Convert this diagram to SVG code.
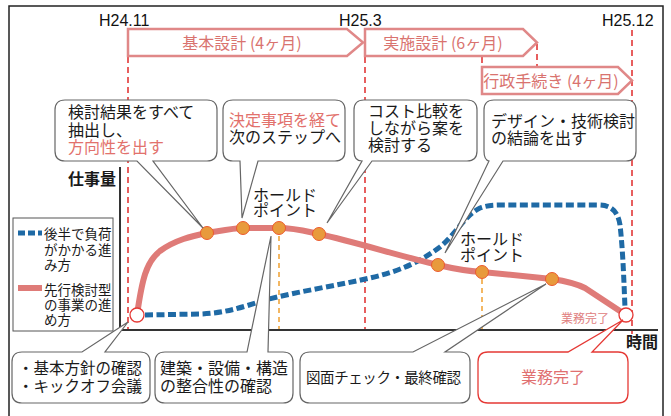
<svg xmlns="http://www.w3.org/2000/svg" width="671" height="416" viewBox="0 0 671 416">
<style>
.jp{font-family:"Noto Sans CJK JP","Noto Sans",sans-serif;fill:#1a1a1a}
.date{font-family:"Liberation Sans",Arial,sans-serif;font-size:16px;fill:#111}
.red{fill:#e2716c}
.arrowlbl{font-family:"Noto Sans CJK JP",sans-serif;font-size:16px;fill:#d9736f}
.phase{fill:#fff;stroke:#e08888;stroke-width:2.5}
.vline{stroke:#e02a2a;stroke-width:1.5;stroke-dasharray:6 4;fill:none}
.oline{stroke:#f0a030;stroke-width:1.5;stroke-dasharray:5 4;fill:none}
.bubble{fill:#fff;stroke:#666;stroke-width:1.2}
.dot{fill:#e89a3c;stroke:#ec5a2e;stroke-width:1}
.end{fill:#fff;stroke:#e53935;stroke-width:1.3}
.axis{stroke:#333;stroke-width:2;fill:none}
</style>

<rect x="9" y="6" width="654" height="416" fill="#fff" stroke="#222" stroke-width="1.5"/>

<g id="dates">
<text class="date" x="99" y="26">H24.11</text>
<text class="date" x="339" y="26">H25.3</text>
<text class="date" x="602" y="26">H25.12</text>
</g>

<g id="guides">
<line class="vline" x1="128" y1="57" x2="128" y2="330"/>
<line class="vline" x1="365" y1="57" x2="365" y2="330"/>
<line class="vline" x1="632" y1="30" x2="632" y2="334"/>
<line class="vline" x1="537" y1="44" x2="537" y2="67"/>
<line class="vline" x1="482" y1="57" x2="482" y2="67"/>
<line class="oline" x1="279" y1="236" x2="279" y2="330"/>
<line class="oline" x1="482" y1="279" x2="482" y2="330"/>
</g>

<g id="phase-kihon">
<path class="phase" d="M128,29 H347 L363,42.5 L347,56 H128 Z"/>
<text class="arrowlbl" x="242" y="49" text-anchor="middle">基本設計 (4ヶ月)</text>
</g>
<g id="phase-jisshi">
<path class="phase" d="M365,29 H523 L537,42.5 L523,56 H365 Z"/>
<text class="arrowlbl" x="443" y="49" text-anchor="middle">実施設計 (6ヶ月)</text>
</g>
<g id="phase-gyosei">
<path class="phase" d="M482,67 H618 L632,80.5 L618,94 H482 Z"/>
<text class="arrowlbl" x="551" y="87" text-anchor="middle">行政手続き (4ヶ月)</text>
</g>

<g id="axes">
<line class="axis" x1="120" y1="167" x2="120" y2="331"/>
<line class="axis" x1="119" y1="330" x2="658" y2="330"/>
<text class="jp" x="68" y="185" font-size="16" font-weight="bold">仕事量</text>
<text class="jp" x="626" y="348" font-size="16" font-weight="bold">時間</text>
</g>

<g id="legend">
<rect x="13" y="218" width="100" height="113" fill="#fff" stroke="#555" stroke-width="1"/>
<line x1="18" y1="233" x2="42" y2="233" stroke="#1f6aa5" stroke-width="5" stroke-dasharray="7 3"/>
<text class="jp" font-size="13.5"><tspan x="44" y="239">後半で負荷</tspan><tspan x="44" y="255">がかかる進</tspan><tspan x="44" y="270">み方</tspan></text>
<line x1="18" y1="288" x2="42" y2="288" stroke="#df7b78" stroke-width="6"/>
<text class="jp" font-size="13.5"><tspan x="44" y="295">先行検討型</tspan><tspan x="44" y="310">の事業の進</tspan><tspan x="44" y="325">め方</tspan></text>
</g>

<g id="connectors">
<path d="M145,315 L200,314 C225,313 240,308 265,300 C300,291 340,285 370,278 C400,271 420,262 440,247 C455,235 465,215 480,208 C488,205 495,205 505,205 L598,205 C612,205 618,212 620,225 C623,250 624,285 625,308" fill="none" stroke="#1f6aa5" stroke-width="5" stroke-dasharray="8 3.5"/>
<path d="M137,315 C142,280 146,262 160,251 C175,240 192,236 207,233 C225,230 235,228 243,228 L279,228 C295,228 305,231 319,234 C355,242 400,256 438,265 C455,269 465,271 482,272 L552,279 C565,281 575,283 585,288 L626,315" fill="none" stroke="#df7b78" stroke-width="6" stroke-linecap="round" stroke-linejoin="round"/>
</g>

<g id="points">
<circle class="end" cx="137" cy="315" r="7"/>
<circle class="end" cx="626" cy="315" r="7"/>
<circle class="dot" cx="207" cy="233" r="6.5"/>
<circle class="dot" cx="243" cy="228" r="6.5"/>
<circle class="dot" cx="279" cy="228" r="6.5"/>
<circle class="dot" cx="319" cy="234" r="6.5"/>
<circle class="dot" cx="438" cy="265" r="6.5"/>
<circle class="dot" cx="482" cy="272" r="6.5"/>
<circle class="dot" cx="552" cy="279" r="6.5"/>
<text class="jp" x="561" y="323" font-size="12" style="fill:#e08080">業務完了</text>
</g>

<g id="hold1">
<text class="jp" font-size="16"><tspan x="253" y="201">ホールド</tspan><tspan x="253" y="216">ポイント</tspan></text>
</g>
<g id="hold2">
<text class="jp" font-size="16"><tspan x="460" y="245">ホールド</tspan><tspan x="460" y="261">ポイント</tspan></text>
</g>

<g id="callout-a">
<path class="bubble" d="M65,100 H207 Q217,100 217,110 V151 Q217,161 207,161 H153 L203,228 L137,161 H65 Q55,161 55,151 V110 Q55,100 65,100 Z"/>
<text class="jp" font-size="16"><tspan x="68" y="118">検討結果をすべて</tspan><tspan x="68" y="135.5">抽出し、</tspan><tspan x="68" y="153" class="red">方向性を出す</tspan></text>
</g>
<g id="callout-b">
<path class="bubble" d="M233,100 H335 Q345,100 345,110 V151 Q345,161 335,161 H258 L242,218 L240,161 H233 Q223,161 223,151 V110 Q223,100 233,100 Z"/>
<text class="jp" font-size="16"><tspan x="229" y="126" class="red">決定事項を経て</tspan><tspan x="229" y="143">次のステップへ</tspan></text>
</g>
<g id="callout-c">
<path class="bubble" d="M364,100 H467 Q477,100 477,110 V151 Q477,161 467,161 H372 L327,223 L362,161 Q354,161 354,151 V110 Q354,100 364,100 Z"/>
<text class="jp" font-size="16"><tspan x="368" y="117">コスト比較を</tspan><tspan x="368" y="134">しながら案を</tspan><tspan x="368" y="151">検討する</tspan></text>
</g>
<g id="callout-d">
<path class="bubble" d="M494,100 H626 Q636,100 636,110 V151 Q636,161 626,161 H503 L445,253 L489,161 Q484,160 484,151 V110 Q484,100 494,100 Z"/>
<text class="jp" font-size="16"><tspan x="491" y="127">デザイン・技術検討</tspan><tspan x="491" y="144">の結論を出す</tspan></text>
</g>

<g id="callout-e">
<path class="bubble" d="M22,352 H82 L128,322 L105,352 H140 Q150,352 150,362 V393 Q150,403 140,403 H22 Q12,403 12,393 V362 Q12,352 22,352 Z"/>
<text class="jp" font-size="15.5"><tspan x="18" y="374">・基本方針の確認</tspan><tspan x="18" y="392">・キックオフ会議</tspan></text>
</g>
<g id="callout-f">
<path class="bubble" d="M165,352 H247 L271,236 L268,352 H283 Q293,352 293,362 V393 Q293,403 283,403 H165 Q155,403 155,393 V362 Q155,352 165,352 Z"/>
<text class="jp" font-size="16"><tspan x="160" y="374">建築・設備・構造</tspan><tspan x="160" y="392">の整合性の確認</tspan></text>
</g>
<g id="callout-g">
<path class="bubble" d="M310,352 H413 L546,284 L445,352 H460 Q470,352 470,362 V393 Q470,403 460,403 H310 Q300,403 300,393 V362 Q300,352 310,352 Z"/>
<text class="jp" font-size="14.5" x="306" y="383" textLength="155" lengthAdjust="spacing">図面チェック・最終確認</text>
</g>
<g id="callout-h">
<path d="M488,352 H568 L623,320 L592,352 H618 Q628,352 628,362 V393 Q628,403 618,403 H488 Q478,403 478,393 V362 Q478,352 488,352 Z" fill="#fff" stroke="#e53935" stroke-width="1.3"/>
<text class="jp" font-size="16" x="553" y="383" text-anchor="middle" style="fill:#e07070">業務完了</text>
</g>
</svg>
